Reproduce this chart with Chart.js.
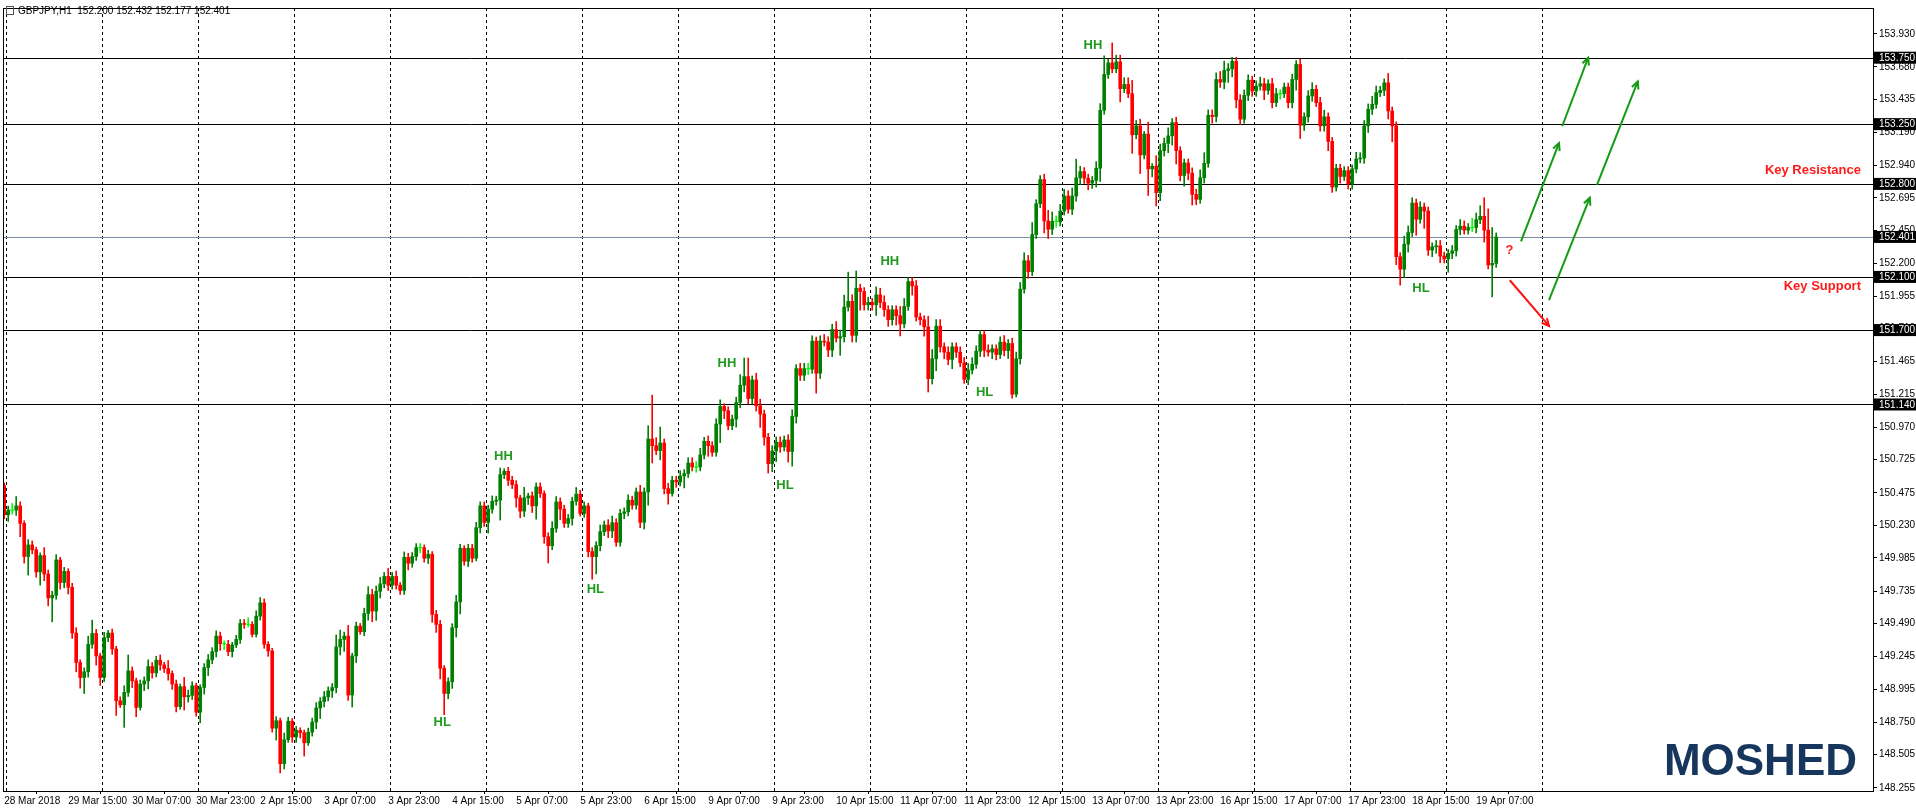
<!DOCTYPE html>
<html>
<head>
<meta charset="utf-8">
<script src="https://cdn.jsdelivr.net/npm/chart.js@4.4.1/dist/chart.umd.min.js"></script>
<style>
  html, body { margin: 0; padding: 0; background: #fff; overflow: hidden; }
  #wrap { width: 1916px; height: 812px; }
</style>
</head>
<body>
<div id="wrap"><canvas id="priceChart" width="1916" height="812"></canvas></div>
<script>
// GBPJPY H1 closes, one per hourly bar (open = previous close)
const firstOpen = 150.53;
const closes = [
  150.31,150.345,150.345,150.377,150.245,149.996,150.083,150.046,149.88,150.003,
  149.864,149.684,149.704,149.97,149.80,149.884,149.764,149.42,149.198,149.085,
  149.128,149.335,149.417,149.248,149.085,149.385,149.42,149.30,148.91,148.88,
  148.973,149.135,149.06,148.86,149.036,149.06,149.168,149.12,149.215,149.18,
  149.153,149.115,149.036,148.866,149.016,148.94,148.95,149.023,148.824,149.01,
  149.16,149.218,149.28,149.397,149.34,149.335,149.28,149.33,149.372,149.492,
  149.485,149.485,149.41,149.547,149.647,149.335,149.285,148.704,148.76,148.437,
  148.617,148.756,148.637,148.687,148.67,148.594,148.674,148.75,148.856,148.904,
  148.94,148.985,149.01,149.315,149.372,149.397,148.953,149.248,149.472,149.43,
  149.567,149.709,149.585,149.734,149.79,149.846,149.78,149.846,149.78,149.74,
  149.99,149.945,149.996,150.063,150.063,149.983,150.013,149.56,149.485,149.155,
  148.965,149.053,
  149.46,149.654,150.058,149.96,150.058,149.983,150.213,150.377,150.252,150.352,
  150.412,150.42,150.612,150.637,150.57,150.537,150.437,150.337,150.437,150.452,
  150.377,150.52,150.47,150.145,150.077,150.208,150.407,150.352,150.245,150.282,
  150.412,150.465,150.32,150.377,150.033,149.995,150.078,150.183,150.233,150.188,
  150.25,150.103,150.32,150.332,150.42,150.382,150.482,150.253,150.482,150.88,
  150.83,150.793,150.85,150.507,150.47,150.57,150.557,150.602,150.62,150.7,
  150.67,150.67,150.76,150.863,150.83,150.78,150.993,151.125,151.093,150.98,
  151.03,151.155,151.285,151.35,151.185,151.325,151.13,151.068,150.893,150.694,
  150.79,150.856,150.82,150.873,150.786,151.05,151.41,151.36,151.41,151.405,
  151.617,151.375,151.617,151.61,151.55,151.704,151.64,151.65,151.873,151.916,
  151.66,152.015,151.99,151.89,151.908,151.89,151.965,151.908,
  151.853,151.778,
  151.853,151.808,151.746,151.878,152.065,152.033,151.798,151.778,151.724,151.334,
  151.484,151.729,151.574,151.534,151.479,151.574,151.534,151.454,151.329,151.399,
  151.442,151.541,151.666,151.549,151.534,151.559,151.516,151.609,151.546,151.599,
  151.217,151.484,152.008,152.222,152.14,152.419,152.651,152.833,152.521,152.459,
  152.519,152.514,152.596,152.709,152.609,152.709,152.846,152.893,152.843,152.806,
  152.826,152.918,153.354,153.624,153.711,153.666,153.719,153.517,153.549,153.479,
  153.17,153.237,153.018,153.175,152.913,152.933,152.734,153.05,153.105,153.162,
  153.262,153.05,152.863,152.958,152.881,152.721,152.684,152.846,152.955,153.317,
  153.307,153.586,153.566,153.654,153.666,153.723,153.432,153.287,153.467,153.581,
  153.499,153.536,153.554,153.504,153.554,153.412,153.479,153.479,153.529,153.412,
  153.586,153.699,153.242,153.305,153.462,153.512,153.412,153.237,
  153.305,153.12,152.776,152.918,152.856,152.9,152.801,152.913,152.988,152.995,
  153.237,153.362,153.399,153.487,153.504,153.561,153.349,153.237,152.252,152.158,
  152.347,152.434,152.656,152.534,152.626,152.596,152.302,152.327,152.334,152.257,
  152.235,152.277,152.297,152.457,152.482,152.452,152.472,152.472,152.531,152.556,
  152.452,152.19,152.202,152.401
];
// wick lengths above / below the body, in hundredths of a yen
const wickUp = [
  2,3,5,7,3,2,4,3,2,2,6,3,3,4,2,3,2,3,4,2,
  3,6,10,3,2,4,2,3,2,3,5,12,3,2,3,3,5,3,3,4,
  2,6,2,3,2,7,4,3,2,2,3,4,3,4,3,2,3,2,3,3,
  3,5,2,4,4,3,2,2,3,2,5,3,2,3,2,2,3,3,4,3,
  4,3,3,9,7,3,8,2,3,2,4,6,4,4,5,3,6,3,4,2,
  4,3,3,3,3,2,3,2,3,3,2,3,3,5,3,2,3,3,4,3,
  3,3,4,3,5,2,3,3,3,2,8,2,3,3,3,2,3,5,4,3,
  3,3,3,5,3,3,2,3,3,5,3,4,5,3,3,3,4,3,3,5,
  3,10,33,6,12,3,4,3,3,4,3,4,4,4,5,3,4,3,4,5,
  2,3,3,4,8,14,14,3,5,5,3,3,4,4,4,3,4,5,3,4,
  4,4,4,3,4,5,4,4,6,5,9,22,5,13,3,3,4,3,6,5,
  5,3,3,3,7,6,3,3,4,3,3,8,7,5,5,3,4,3,3,4,
  4,5,5,4,3,3,4,3,3,4,5,3,4,5,5,6,4,9,3,3,
  4,8,7,4,5,5,4,6,14,4,3,3,3,5,5,14,3,15,5,5,
  5,5,10,4,5,2,9,2,8,5,4,6,3,4,3,3,3,4,4,6,
  8,4,4,5,6,7,4,3,3,4,4,4,3,4,5,4,3,4,4,3,
  3,3,4,3,4,3,4,5,3,4,5,3,3,3,3,3,3,3,5,4,
  4,4,6,5,3,3,7,3,3,3,6,5,4,3,4,3,3,3,4,4,
  3,3,4,3,5,4,3,7,5,8,14,16,27,3
];
const wickDn = [
  3,5,3,4,10,5,14,3,4,10,5,6,18,3,5,4,5,4,7,8,
  12,4,3,7,6,3,3,4,11,2,17,3,5,7,2,5,6,4,3,4,
  3,5,4,4,2,10,4,3,3,8,5,6,3,4,5,4,3,4,2,3,
  3,2,2,2,3,3,4,3,9,7,4,2,4,4,4,10,2,3,5,8,
  4,3,5,4,6,9,4,9,5,2,3,5,8,7,5,3,4,3,3,3,
  3,5,3,3,4,3,4,6,6,8,16,4,5,7,9,3,4,3,2,4,
  3,8,3,3,15,3,4,3,7,5,4,5,5,10,3,5,13,3,3,8,
  3,3,5,3,2,3,4,17,13,4,3,5,5,3,3,4,3,3,3,4,
  5,10,13,3,7,4,8,2,4,3,9,3,3,4,3,3,8,3,3,14,
  6,3,3,6,4,5,4,4,4,10,6,7,6,8,4,3,8,11,5,4,
  4,4,3,15,4,3,5,5,3,13,4,3,5,5,14,4,4,4,8,4,
  5,5,4,7,9,3,3,7,3,4,7,10,4,9,4,5,4,7,4,3,
  3,4,3,3,4,5,3,5,4,3,4,6,3,2,4,3,5,3,3,3,
  9,7,4,4,3,3,3,4,4,5,4,5,4,5,10,3,3,3,3,10,
  3,3,14,3,14,3,20,6,10,6,4,7,7,10,4,8,5,8,4,3,
  4,3,5,4,4,5,9,6,6,4,3,4,4,4,3,7,3,4,3,4,
  3,4,4,8,10,4,4,4,3,4,4,7,4,3,5,3,4,4,3,3,
  4,5,4,3,3,4,6,12,6,12,6,6,3,12,3,13,4,5,5,5,
  3,10,4,4,4,3,3,3,4,3,9,3,24,3
];

// time axis labels, one every 16 bars
const xLabels = ['28 Mar 2018','29 Mar 15:00','30 Mar 07:00','30 Mar 23:00','2 Apr 15:00','3 Apr 07:00',
  '3 Apr 23:00','4 Apr 15:00','5 Apr 07:00','5 Apr 23:00','6 Apr 15:00','9 Apr 07:00','9 Apr 23:00',
  '10 Apr 15:00','11 Apr 07:00','11 Apr 23:00','12 Apr 15:00','13 Apr 07:00','13 Apr 23:00',
  '16 Apr 15:00','17 Apr 07:00','17 Apr 23:00','18 Apr 15:00','19 Apr 07:00'];
const labelStep = 16;
// first bar of each day (00:00) gets a dashed separator
const dayStarts = [1,25,49,73,97,121,145,169,193,217,241,265,289,313,337,361,385];

const yTicks = [153.930,153.680,153.435,153.190,152.940,152.695,152.450,152.200,151.955,151.710,
  151.465,151.215,150.970,150.725,150.475,150.230,149.985,149.735,149.490,149.245,148.995,
  148.750,148.505,148.255];
const levels = [153.750, 153.250, 152.800, 152.100, 151.700, 151.140];
const lastPrice = 152.401;

// swing labels: [text, bar, price]
const swings = [
  ['HL', 109.5, 148.75], ['HH', 124.8, 150.75], ['HL', 147.8, 149.75], ['HH', 180.7, 151.45],
  ['HL', 195.2, 150.53], ['HH', 221.4, 152.22], ['HL', 245.1, 151.23], ['HH', 272.2, 153.84],
  ['HL', 354.2, 152.01]
];
// projected arrows: [bar1, price1, bar2, price2, colour]
const arrows = [
  [379.2, 152.367, 388.7, 153.107, '#159a15'],
  [389.5, 153.234, 396.0, 153.750, '#159a15'],
  [386.2, 151.925, 396.4, 152.696, '#159a15'],
  [398.2, 152.793, 408.4, 153.571, '#159a15'],
  [376.4, 152.075, 386.2, 151.731, '#ff1010']
];

const opens = closes.map((c, i) => i === 0 ? firstOpen : closes[i - 1]);
const bodies = closes.map((c, i) => {
  const o = opens[i];
  return { x: i, y: Math.abs(c - o) < 0.006 ? [o - 0.003, o + 0.003] : [o, c] };
});
const wicks = closes.map((c, i) => {
  const o = opens[i];
  return { x: i, y: [Math.min(o, c) - wickDn[i] / 100, Math.max(o, c) + wickUp[i] / 100] };
});
const colorOf = i => {
  const d = closes[i] - opens[i];
  if (Math.abs(d) < 0.006) return '#00ff00';
  return d > 0 ? '#008000' : '#ff0000';
};

const FONT = 'Liberation Sans, Arial, sans-serif';

const overlay = {
  id: 'overlay',
  beforeDatasetsDraw(chart) {
    const { ctx, chartArea: a, scales: { x, y } } = chart;
    ctx.save();
    ctx.strokeStyle = '#000';
    ctx.lineWidth = 1;
    ctx.setLineDash([3, 3]);
    dayStarts.forEach(d => {
      const px = Math.round(x.getPixelForValue(d - 0.5)) + 0.5;
      ctx.beginPath(); ctx.moveTo(px, a.top); ctx.lineTo(px, a.bottom); ctx.stroke();
    });
    ctx.setLineDash([]);
    levels.forEach(l => {
      const py = Math.round(y.getPixelForValue(l)) + 0.5;
      ctx.beginPath(); ctx.moveTo(a.left, py); ctx.lineTo(a.right, py); ctx.stroke();
    });
    ctx.strokeStyle = '#7b8ea3';
    const pp = Math.round(y.getPixelForValue(lastPrice)) + 0.5;
    ctx.beginPath(); ctx.moveTo(a.left, pp); ctx.lineTo(a.right, pp); ctx.stroke();
    ctx.restore();
  },
  afterDraw(chart) {
    const { ctx, chartArea: a, scales: { x, y } } = chart;
    ctx.save();
    ctx.strokeStyle = '#000';
    ctx.lineWidth = 1;
    ctx.strokeRect(a.left + 0.5, a.top + 0.5, a.right - a.left, a.bottom - a.top);

    // level boxes on the price axis
    ctx.font = '10px ' + FONT;
    ctx.textBaseline = 'middle';
    ctx.textAlign = 'left';
    levels.concat([lastPrice]).forEach(l => {
      const py = y.getPixelForValue(l);
      ctx.fillStyle = '#000';
      ctx.fillRect(a.right + 1, py - 6, 1916 - a.right, 12);
      ctx.fillStyle = '#fff';
      ctx.fillText(l.toFixed(3), a.right + 6, py + 0.5);
    });

    // swing labels
    ctx.font = 'bold 13px ' + FONT;
    ctx.textAlign = 'center';
    ctx.fillStyle = '#1f9a1f';
    swings.forEach(([t, b, p]) => ctx.fillText(t, x.getPixelForValue(b), y.getPixelForValue(p)));

    // arrows
    arrows.forEach(([b1, p1, b2, p2, col]) => {
      const x1 = x.getPixelForValue(b1), y1 = y.getPixelForValue(p1);
      const x2 = x.getPixelForValue(b2), y2 = y.getPixelForValue(p2);
      const ang = Math.atan2(y2 - y1, x2 - x1);
      ctx.strokeStyle = col;
      ctx.lineWidth = 2;
      ctx.beginPath(); ctx.moveTo(x1, y1); ctx.lineTo(x2, y2); ctx.stroke();
      ctx.beginPath();
      ctx.moveTo(x2 - 8 * Math.cos(ang - 0.45), y2 - 8 * Math.sin(ang - 0.45));
      ctx.lineTo(x2, y2);
      ctx.lineTo(x2 - 8 * Math.cos(ang + 0.45), y2 - 8 * Math.sin(ang + 0.45));
      ctx.stroke();
    });

    // text notes
    ctx.fillStyle = '#ff1a1a';
    ctx.font = 'bold 13px ' + FONT;
    ctx.textAlign = 'right';
    ctx.fillText('Key Resistance', 1861, y.getPixelForValue(152.90));
    ctx.fillText('Key Support', 1861, y.getPixelForValue(152.03));
    ctx.textAlign = 'center';
    ctx.fillText('?', x.getPixelForValue(376.3), y.getPixelForValue(152.30));

    // header
    ctx.fillStyle = '#000';
    ctx.font = '10px ' + FONT;
    ctx.textAlign = 'left';
    ctx.fillText('GBPJPY,H1  152.200 152.432 152.177 152.401', 18, 11);
    ctx.strokeStyle = '#555';
    ctx.lineWidth = 1;
    ctx.strokeRect(6.5, 6.5, 7, 8);

    // logo
    ctx.fillStyle = '#17365d';
    ctx.font = 'bold 44px ' + FONT;
    ctx.textBaseline = 'alphabetic';
    ctx.textAlign = 'right';
    ctx.fillText('MOSHED', 1857, 775);
    ctx.restore();
  }
};

new Chart(document.getElementById('priceChart'), {
  type: 'bar',
  data: {
    datasets: [
      {
        label: 'wick',
        data: wicks,
        backgroundColor: ctx => colorOf(ctx.dataIndex),
        barThickness: 1,
        grouped: false,
        borderSkipped: false
      },
      {
        label: 'body',
        data: bodies,
        backgroundColor: ctx => colorOf(ctx.dataIndex),
        barThickness: 3,
        grouped: false,
        borderSkipped: false
      }
    ]
  },
  options: {
    responsive: false,
    animation: false,
    devicePixelRatio: 1,
    layout: { padding: { left: 3, top: 3, right: 0, bottom: 0 } },
    plugins: { legend: { display: false }, tooltip: { enabled: false } },
    scales: {
      x: {
        type: 'linear',
        min: -0.3,
        max: 467.2,
        offset: false,
        afterBuildTicks: s => { s.ticks = xLabels.map((_, k) => ({ value: k * labelStep })); },
        afterFit: s => { s.height = 21; },
        grid: { drawOnChartArea: false, tickLength: 3, color: '#000' },
        border: { display: false },
        ticks: {
          autoSkip: false,
          maxRotation: 0,
          align: 'start',
          padding: 1,
          color: '#000',
          font: { family: FONT, size: 10 },
          callback: v => xLabels[Math.round(v / labelStep)] || ''
        }
      },
      y: {
        position: 'right',
        min: 148.231,
        max: 154.124,
        afterBuildTicks: s => { s.ticks = yTicks.map(v => ({ value: v })); },
        afterFit: s => { s.width = 43; },
        grid: { drawOnChartArea: false, tickLength: 4, color: '#000' },
        border: { display: false },
        ticks: {
          padding: 2,
          color: '#000',
          font: { family: FONT, size: 10 },
          callback: v => v.toFixed(3)
        }
      }
    }
  },
  plugins: [overlay]
});
</script>
</body>
</html>
